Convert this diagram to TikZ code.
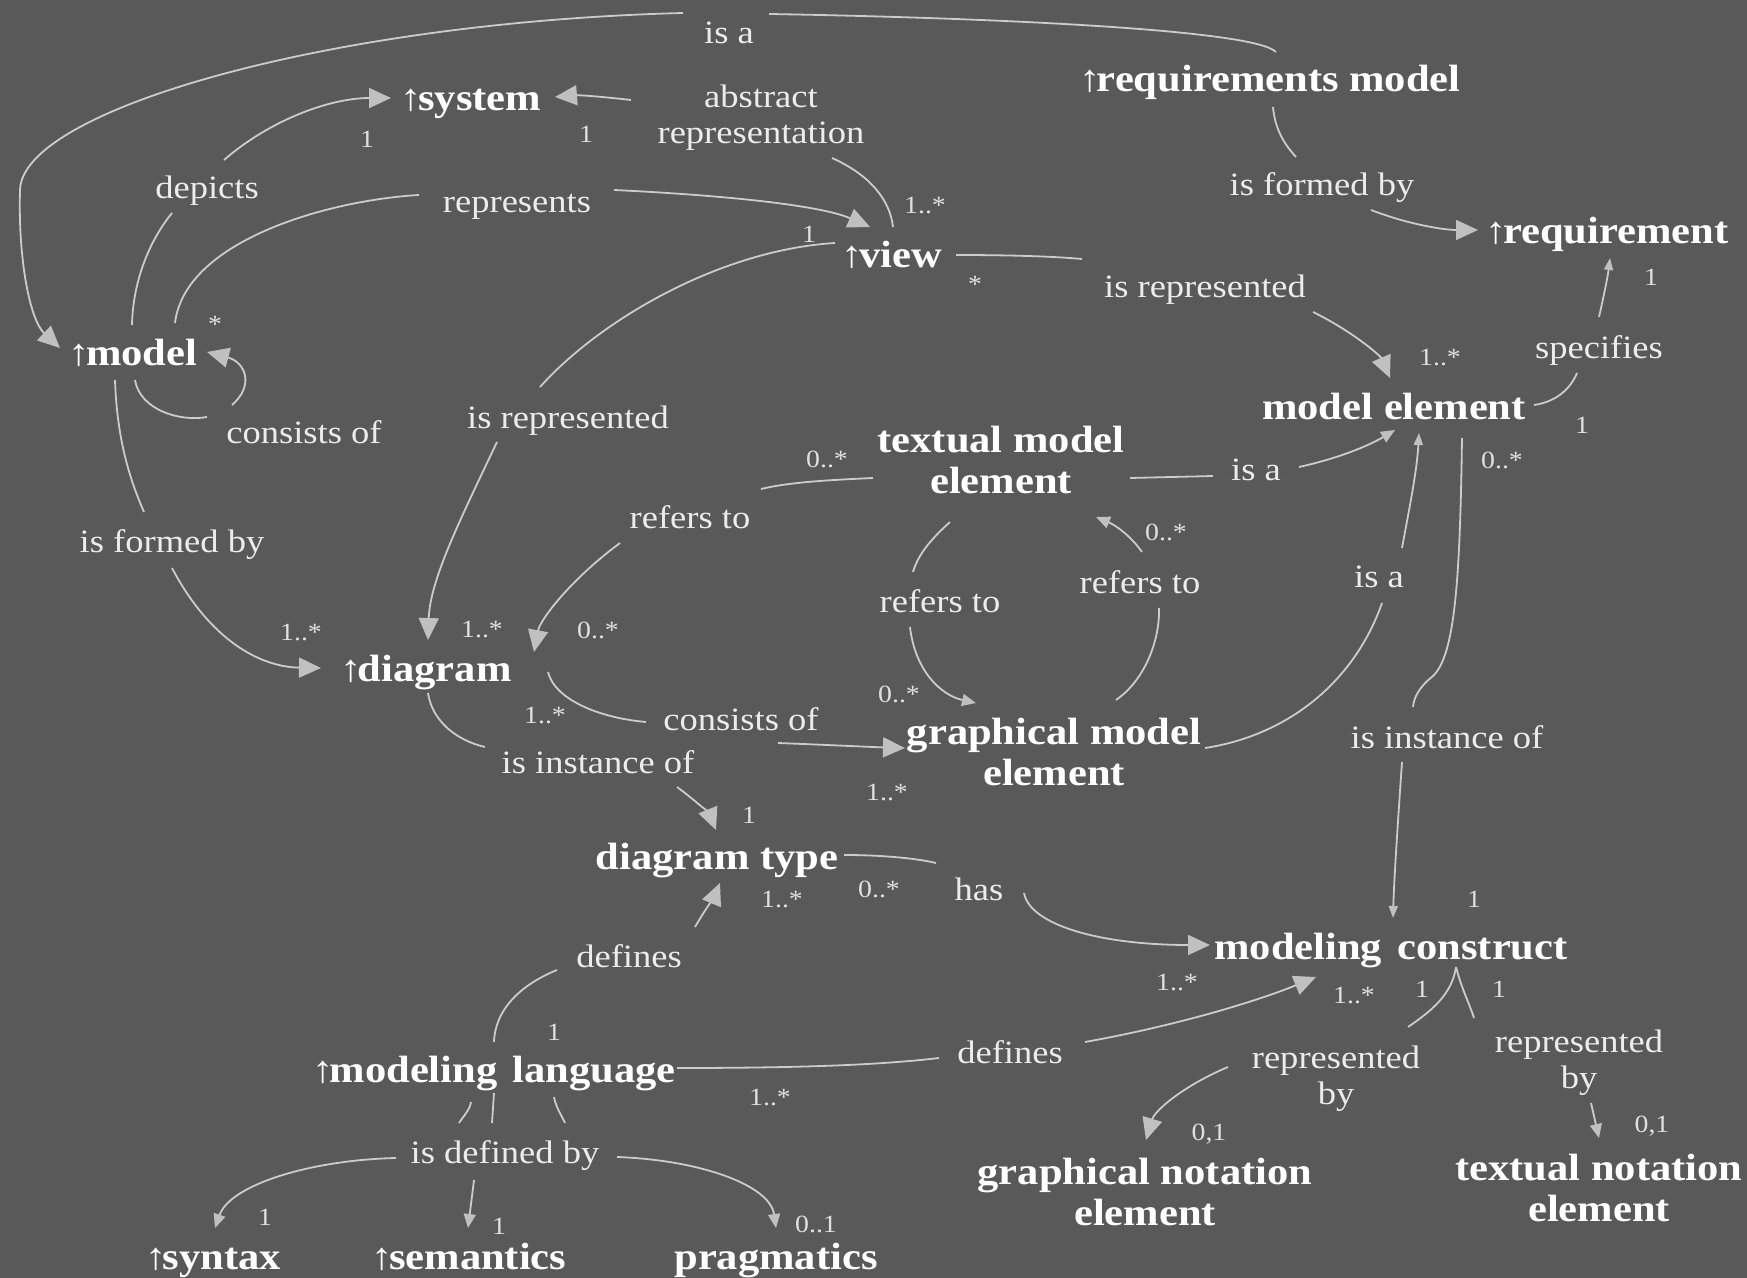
\documentclass[tikz,border=0pt]{standalone}
\usepackage{fontspec}
\setmainfont{Liberation Serif}[FakeStretch=1.12]
\usetikzlibrary{calc,arrows.meta}
\definecolor{bg}{RGB}{89,89,89}
\definecolor{linecol}{RGB}{204,204,204}
\definecolor{arrcol}{RGB}{192,192,192}
\definecolor{lblcol}{RGB}{236,236,236}
\definecolor{multcol}{RGB}{224,224,224}
\newcommand{\upar}{↑\kern-0.1em}
\begin{document}
\begin{tikzpicture}[x=0.5pt,y=-0.5pt,
  concept/.style={text=white,font=\fontsize{19}{20.5}\selectfont\bfseries,inner sep=0pt,text height=14.6pt,text depth=2pt},
  concepttwo/.style={text=white,font=\fontsize{19}{20.5}\selectfont\bfseries,inner sep=0pt,align=center},
  lbl/.style={text=lblcol,font=\fontsize{16.3}{18}\selectfont,inner sep=0pt,text height=12.5pt,text depth=2pt},
  lbltwo/.style={text=lblcol,font=\fontsize{16.3}{18}\selectfont,inner sep=0pt,align=center},
  mult/.style={text=multcol,font=\fontsize{12.4}{13}\selectfont,inner sep=0pt,text height=10.8pt,text depth=0pt},
  conn/.style={draw=linecol,line width=0.9pt},
  big/.style={conn,-{Triangle[length=11pt,width=10pt,fill=arrcol,color=arrcol]}},
  med/.style={conn,-{Triangle[length=7pt,width=6pt,fill=arrcol,color=arrcol]}},
  small/.style={conn,-{Triangle[length=6pt,width=4.5pt,fill=arrcol,color=arrcol]}},
]
\useasboundingbox (0,0) rectangle (1747,1278);
\fill[bg] (0,0) rectangle (1747,1278);

% concepts
\node[concept] (sys) at (471,98) {\upar system};
\node[concept] (rm) at (1270,79) {\upar requirements model};
\node[concept] (req) at (1607,231) {\upar requirement};
\node[concept] (view) at (892,255) {\upar view};
\node[concept] (model) at (133,353) {\upar model};
\node[concept] (me) at (1394,407) {model element};
\node[concepttwo] (tme) at (1001,460) {textual model\\element};
\node[concept] (diag) at (426,669) {\upar diagram};
\node[concepttwo] (gme) at (1054,752) {graphical model\\element};
\node[concept] (dt) at (717,857) {diagram type};
\node[concept] (mc) at (1391,947) {modeling\hspace{0.4em}construct};
\node[concept] (ml) at (494,1070) {\upar modeling\hspace{0.4em}language};
\node[concepttwo] (gne) at (1145,1192) {graphical notation\\element};
\node[concepttwo] (tne) at (1599,1188) {textual notation\\element};
\node[concept] (syn) at (213,1257) {\upar syntax};
\node[concept] (sem) at (469,1257) {\upar semantics};
\node[concept] (prag) at (776,1257) {pragmatics};

% labels
\node[lbl] (isaT) at (729,33) {is a};
\node[lbltwo] (abs) at (761,117.5) {abstract\\representation};
\node[lbl] (dep) at (207,188) {depicts};
\node[lbl] (rep) at (517,202) {represents};
\node[lbl] (cons1) at (304,433) {consists of};
\node[lbl] (isr1) at (568,418) {is represented};
\node[lbl] (ifb1) at (172,542) {is formed by};
\node[lbl] (ref1) at (690,518) {refers to};
\node[lbl] (isa2) at (1256,470) {is a};
\node[lbl] (isa3) at (1379,577) {is a};
\node[lbl] (iio2) at (1447,738) {is instance of};
\node[lbl] (ref2) at (940,602) {refers to};
\node[lbl] (ref3) at (1140,583) {refers to};
\node[lbl] (cons2) at (741,720) {consists of};
\node[lbl] (iio1) at (598,763) {is instance of};
\node[lbl] (ifb2) at (1322,185) {is formed by};
\node[lbl] (isr2) at (1205,287) {is represented};
\node[lbl] (spec) at (1599,348) {specifies};
\node[lbl] (def1) at (629,957) {defines};
\node[lbl] (def2) at (1010,1053) {defines};
\node[lbl] (has) at (979,890) {has};
\node[lbl] (idb) at (505,1153) {is defined by};
\node[lbltwo] (rb1) at (1336,1078.5) {represented\\by};
\node[lbltwo] (rb2) at (1579,1062.5) {represented\\by};

% multiplicities
\node[mult] (m1) at (367,137) {1};
\node[mult] (m2) at (586,132) {1};
\node[mult] (m3) at (925,203) {1..*};
\node[mult] (m4) at (809,232) {1};
\node[mult] (m5) at (975,282) {*};
\node[mult] (m6) at (215,322) {*};
\node[mult] (m7) at (1651,275) {1};
\node[mult] (m8) at (1440,355) {1..*};
\node[mult] (m9) at (1582,423) {1};
\node[mult] (m10) at (1502,458) {0..*};
\node[mult] (m11) at (827,457) {0..*};
\node[mult] (m12) at (1166,530) {0..*};
\node[mult] (m13) at (301,630) {1..*};
\node[mult] (m14) at (482,627) {1..*};
\node[mult] (m15) at (598,628) {0..*};
\node[mult] (m16) at (899,692) {0..*};
\node[mult] (m17) at (545,713) {1..*};
\node[mult] (m18) at (887,790) {1..*};
\node[mult] (m19) at (749,813) {1};
\node[mult] (m20) at (782,897) {1..*};
\node[mult] (m21) at (879,887) {0..*};
\node[mult] (m22) at (1474,897) {1};
\node[mult] (m23) at (1177,980) {1..*};
\node[mult] (m24) at (1354,993) {1..*};
\node[mult] (m25) at (1422,987) {1};
\node[mult] (m26) at (1499,987) {1};
\node[mult] (m27) at (554,1030) {1};
\node[mult] (m28) at (770,1095) {1..*};
\node[mult] (m29) at (1209,1130) {0,1};
\node[mult] (m30) at (1652,1122) {0,1};
\node[mult] (m31) at (265,1215) {1};
\node[mult] (m32) at (499,1224) {1};
\node[mult] (m33) at (816,1222) {0..1};

% is a (requirements model -> model)
\draw[conn] ($(rm)+(6,-27)$) .. controls (1255,30) and (1000,18) .. ($(isaT)+(40,-19)$);
\draw[big] ($(isaT)+(-46,-20)$) .. controls (330,22) and (22,110) .. (20,190) .. controls (18,260) and (30,320) .. ($(model)+(-73,-5)$);
% depicts
\draw[conn] ($(model)+(-1,-28)$) .. controls (133,280) and (150,240) .. ($(dep)+(-35,25)$);
\draw[big] ($(dep)+(17,-28)$) .. controls (270,120) and (330,98) .. ($(sys)+(-80,0)$);
% represents
\draw[conn] ($(model)+(42,-30)$) .. controls (185,240) and (330,200) .. ($(rep)+(-98,-7)$);
\draw[big] ($(rep)+(97,-12)$) .. controls (720,195) and (820,205) .. ($(view)+(-22,-28)$);
% abstract representation
\draw[conn] ($(view)+(1,-28)$) .. controls (890,200) and (870,175) .. ($(abs)+(71,40.5)$);
\draw[big] ($(abs)+(-130,-17.5)$) .. controls (605,97) and (580,95) .. ($(sys)+(84,-1)$);
% consists of (model)
\draw[conn] ($(model)+(2,27)$) .. controls (140,410) and (180,422) .. ($(cons1)+(-97,-16)$);
\draw[big] ($(cons1)+(-72,-28)$) .. controls (255,385) and (245,362) .. ($(model)+(74,-1)$);
% is represented (view -> diagram)
\draw[conn] ($(view)+(-57,-12)$) .. controls (720,250) and (600,320) .. ($(isr1)+(-28,-31)$);
\draw[big] ($(isr1)+(-71,24)$) .. controls (460,520) and (430,580) .. ($(diag)+(2,-29)$);
% is formed by (model -> diagram)
\draw[conn] ($(model)+(-18,27)$) .. controls (117,440) and (130,480) .. ($(ifb1)+(-28,-30)$);
\draw[big] ($(ifb1)+(0,26)$) .. controls (210,640) and (260,667) .. ($(diag)+(-105,-1)$);
% refers to (tme -> diagram)
\draw[conn] ($(tme)+(-128,18)$) .. controls (830,480) and (790,482) .. ($(ref1)+(71,-29)$);
\draw[big] ($(ref1)+(-70,25)$) .. controls (570,580) and (540,620) .. ($(diag)+(108,-17)$);
% is a (tme -> me)
\draw[conn] ($(tme)+(129,18)$) -- ($(isa2)+(-43,6)$);
\draw[med] ($(isa2)+(43,-3)$) .. controls (1340,458) and (1370,445) .. ($(me)+(1,23)$);
% is a (gme -> me)
\draw[conn] ($(gme)+(151,-4)$) .. controls (1290,735) and (1355,680) .. ($(isa3)+(3,26)$);
\draw[small] ($(isa3)+(23,-29)$) .. controls (1410,505) and (1417,470) .. ($(me)+(25,26)$);
% is instance of (me -> mc)
\draw[conn] ($(me)+(68,31)$) .. controls (1460,580) and (1455,655) .. (1433,676) .. controls (1418,688) and (1414,698) .. ($(iio2)+(-34,-31)$);
\draw[small] ($(iio2)+(-45,24)$) .. controls (1398,820) and (1394,880) .. ($(mc)+(2,-29)$);
% refers to (tme -> gme)
\draw[conn] ($(tme)+(-51,62)$) .. controls (930,540) and (918,555) .. ($(ref2)+(-27,-30)$);
\draw[med] ($(ref2)+(-30,25)$) .. controls (915,670) and (940,695) .. ($(gme)+(-78,-49)$);
% refers to (gme -> tme)
\draw[conn] ($(gme)+(62,-52)$) .. controls (1145,680) and (1160,640) .. ($(ref3)+(19,25)$);
\draw[med] ($(ref3)+(2,-31)$) .. controls (1130,535) and (1115,525) .. ($(tme)+(95,57)$);
% consists of (diagram -> gme)
\draw[conn] ($(diag)+(122,3)$) .. controls (555,700) and (600,718) .. ($(cons2)+(-95,2)$);
\draw[big] ($(cons2)+(37,23)$) .. controls (830,745) and (870,747) .. ($(gme)+(-149,-4)$);
% is instance of (diagram -> diagram type)
\draw[conn] ($(diag)+(2,24)$) .. controls (432,720) and (455,740) .. ($(iio1)+(-113,-16)$);
\draw[big] ($(iio1)+(79,24)$) .. controls (695,800) and (710,815) .. ($(dt)+(-1,-27)$);
% is formed by (rm -> requirement)
\draw[conn] ($(rm)+(3,28)$) .. controls (1275,130) and (1285,145) .. ($(ifb2)+(-26,-28)$);
\draw[big] ($(ifb2)+(49,25)$) .. controls (1410,225) and (1445,230) .. ($(req)+(-129,-1)$);
% is represented (view -> me)
\draw[conn] ($(view)+(64,0)$) .. controls (1000,255) and (1050,256) .. ($(isr2)+(-123,-28)$);
\draw[big] ($(isr2)+(108,25)$) .. controls (1350,330) and (1380,355) .. ($(me)+(-4,-29)$);
% specifies
\draw[conn] ($(me)+(140,-2)$) .. controls (1555,402) and (1570,390) .. ($(spec)+(-22,25)$);
\draw[small] ($(spec)+(0,-31)$) .. controls (1604,295) and (1608,275) .. ($(req)+(3,27)$);
% defines (ml -> dt)
\draw[conn] ($(ml)+(0,-28)$) .. controls (495,1010) and (520,985) .. ($(def1)+(-72,13)$);
\draw[big] ($(def1)+(66,-30)$) .. controls (705,910) and (715,895) .. ($(dt)+(3,26)$);
% defines (ml -> mc)
\draw[conn] ($(ml)+(183,-2)$) .. controls (800,1068) and (880,1065) .. ($(def2)+(-71,5)$);
\draw[big] ($(def2)+(75,-11)$) .. controls (1180,1025) and (1260,1000) .. ($(mc)+(-75,30)$);
% has
\draw[conn] ($(dt)+(127,-2)$) .. controls (880,855) and (915,858) .. ($(has)+(-43,-27)$);
\draw[big] ($(has)+(45,3)$) .. controls (1030,925) and (1100,945) .. ($(mc)+(-181,-2)$);
% is defined by
\draw[conn] ($(ml)+(-23,32)$) .. controls (470,1110) and (462,1118) .. ($(idb)+(-46,-30)$);
\draw[conn] ($(ml)+(0,23)$) -- ($(idb)+(-13,-30)$);
\draw[conn] ($(ml)+(60,27)$) .. controls (556,1108) and (562,1116) .. ($(idb)+(60,-30)$);
\draw[med] ($(idb)+(-109,5)$) .. controls (310,1160) and (230,1185) .. ($(syn)+(2,-29)$);
\draw[med] ($(idb)+(-31,27)$) -- ($(sem)+(-1,-29)$);
\draw[med] ($(idb)+(112,4)$) .. controls (700,1160) and (770,1185) .. ($(prag)+(0,-29)$);
% represented by
\draw[conn] ($(mc)+(65,20)$) .. controls (1452,995) and (1430,1012) .. ($(rb1)+(72,-51.5)$);
\draw[big] ($(rb1)+(-108,-11.5)$) .. controls (1185,1085) and (1155,1110) .. ($(gne)+(1,-52)$);
\draw[conn] ($(mc)+(65,20)$) .. controls (1462,990) and (1470,1005) .. ($(rb2)+(-105,-44.5)$);
\draw[med] ($(rb2)+(12,40.5)$) -- ($(tne)+(0,-50)$);
\end{tikzpicture}
\end{document}
